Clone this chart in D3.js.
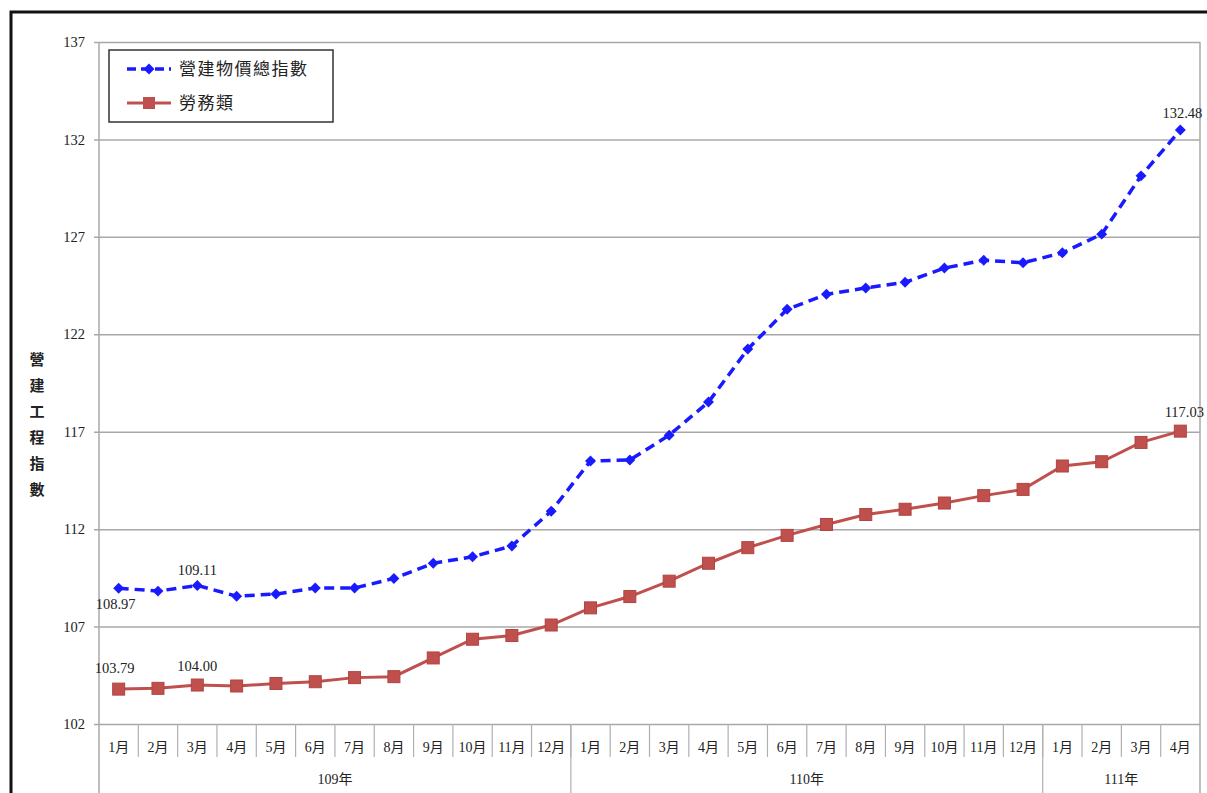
<!DOCTYPE html>
<html>
<head>
<meta charset="utf-8">
<script src="https://cdn.jsdelivr.net/npm/d3@7"></script>
<style>
  body { margin: 0; background: #fff; }
  svg text { fill: #222; }
</style>
</head>
<body>
<div id="chart"></div>
<script>
// month labels along the bottom, grouped by ROC year
const months = ["1月","2月","3月","4月","5月","6月","7月","8月","9月","10月","11月","12月",
                "1月","2月","3月","4月","5月","6月","7月","8月","9月","10月","11月","12月",
                "1月","2月","3月","4月"];
const yearLabels = ["109年", "110年", "111年"];
const yearMonths = [12, 12, 4];
const yTicks = [102, 107, 112, 117, 122, 127, 132, 137];

// 營建物價總指數
const totalIndex = [108.97,108.82,109.11,108.56,108.67,108.98,108.98,109.47,110.25,110.58,111.14,112.92,
                    115.50,115.55,116.82,118.52,121.24,123.28,124.05,124.38,124.67,125.40,125.80,125.67,
                    126.18,127.14,130.13,132.48];
// 勞務類
const labourIndex = [103.79,103.83,104.00,103.95,104.08,104.17,104.38,104.43,105.39,106.35,106.54,107.08,
                     107.96,108.54,109.33,110.25,111.05,111.68,112.24,112.75,113.02,113.34,113.72,114.04,
                     115.24,115.46,116.45,117.03];

const W = 1207, H = 793;
const pLeft = 99, pRight = 1200, pTop = 42, pBottom = 724;

const svg = d3.select('#chart').append('svg')
    .attr('width', W)
    .attr('height', H)

// outer frame of the scanned page
svg.append('rect')
    .attr('x', 11).attr('y', 12)
    .attr('width', W + 20).attr('height', H + 20)
    .attr('fill', 'none').attr('stroke', '#111').attr('stroke-width', 3)

const idx = d3.range(months.length);
const x = d3.scaleBand().domain(idx).range([pLeft, pRight]);
const y = d3.scaleLinear().domain([102, 137]).range([pBottom, pTop]);
const cx = i => x(i) + x.bandwidth() / 2;

// gridlines + y labels
const yAxis = svg.append('g')
    .attr('transform', `translate(${pLeft},0)`)
    .call(d3.axisLeft(y).tickValues(yTicks).tickSize(-(pRight - pLeft)).tickSizeOuter(0).tickPadding(14))
yAxis.select('.domain').remove()
yAxis.selectAll('.tick line').attr('stroke', '#a8a8a8').attr('stroke-width', 1.5).attr('x1', -5)
yAxis.selectAll('.tick text')
    .attr('font-family', '"Liberation Serif", serif').attr('font-size', 14.5).attr('fill', '#222')

// plot frame: left axis runs down through the category rows
svg.append('line').attr('x1', pLeft).attr('x2', pLeft).attr('y1', pTop).attr('y2', H)
    .attr('stroke', '#a8a8a8').attr('stroke-width', 1.5)
svg.append('line').attr('x1', pRight).attr('x2', pRight).attr('y1', pTop).attr('y2', H)
    .attr('stroke', '#a8a8a8').attr('stroke-width', 1.5)

// month separators
svg.append('g').selectAll('line').data(d3.range(1, months.length)).join('line')
    .attr('x1', d => x(d)).attr('x2', d => x(d))
    .attr('y1', pBottom).attr('y2', 757)
    .attr('stroke', '#b0b0b0').attr('stroke-width', 1.2)

svg.append('g').selectAll('text').data(months).join('text')
    .attr('x', (d, i) => cx(i)).attr('y', 752)
    .attr('text-anchor', 'middle')
    .attr('font-family', '"Liberation Serif", "Noto Sans CJK TC", serif').attr('font-size', 14)
    .text(d => d)

// year groups
const yearStart = yearMonths.map((n, i) => d3.sum(yearMonths.slice(0, i)));
svg.append('g').selectAll('line').data(yearStart.slice(1)).join('line')
    .attr('x1', d => x(d)).attr('x2', d => x(d))
    .attr('y1', pBottom).attr('y2', H)
    .attr('stroke', '#b0b0b0').attr('stroke-width', 1.2)
svg.append('g').selectAll('text').data(yearLabels).join('text')
    .attr('x', (d, i) => (x(yearStart[i]) + x(yearStart[i] + yearMonths[i] - 1) + x.bandwidth()) / 2)
    .attr('y', 784)
    .attr('text-anchor', 'middle')
    .attr('font-family', '"Liberation Serif", "Noto Sans CJK TC", serif').attr('font-size', 14)
    .text(d => d)

// y title, stacked vertically
svg.append('g').selectAll('text').data('營建工程指數'.split('')).join('text')
    .attr('x', 37).attr('y', (d, i) => 365 + i * 26)
    .attr('text-anchor', 'middle')
    .attr('font-family', '"Noto Sans CJK TC", sans-serif').attr('font-weight', 'bold').attr('font-size', 15)
    .text(d => d)

const line = d3.line().x((d, i) => cx(i)).y(d => y(d));

// 勞務類 – red solid with squares
svg.append('path').datum(labourIndex)
    .attr('d', line).attr('fill', 'none')
    .attr('stroke', '#c0504d').attr('stroke-width', 3)
svg.append('g').selectAll('rect').data(labourIndex).join('rect')
    .attr('x', (d, i) => cx(i) - 6).attr('y', d => y(d) - 6)
    .attr('width', 12).attr('height', 12)
    .attr('fill', '#c0504d').attr('stroke', '#b04440').attr('stroke-width', 1)

// 營建物價總指數 – blue dashed with diamonds
const diamond = d3.symbol(d3.symbolSquare, 60);
svg.append('path').datum(totalIndex)
    .attr('d', line).attr('fill', 'none')
    .attr('stroke', '#1a1aff').attr('stroke-width', 3.5).attr('stroke-dasharray', '10,6')
svg.append('g').selectAll('path').data(totalIndex).join('path')
    .attr('d', diamond)
    .attr('transform', (d, i) => `translate(${cx(i)},${y(d)}) rotate(45)`)
    .attr('fill', '#1a1aff')

// value labels
const numFont = '"Liberation Serif", serif';
const labels = [
  { s: totalIndex, i: 0, dx: -3, dy: 21 },
  { s: totalIndex, i: 2, dx: 0, dy: -10 },
  { s: totalIndex, i: 27, dx: 2, dy: -12 },
  { s: labourIndex, i: 0, dx: -4, dy: -16 },
  { s: labourIndex, i: 2, dx: 0, dy: -14 },
  { s: labourIndex, i: 27, dx: 4, dy: -14 }
];
svg.append('g').selectAll('text').data(labels).join('text')
    .attr('x', d => cx(d.i) + d.dx).attr('y', d => y(d.s[d.i]) + d.dy)
    .attr('text-anchor', 'middle')
    .attr('font-family', numFont).attr('font-size', 14.5)
    .text(d => d.s[d.i].toFixed(2))

// legend
const lg = svg.append('g').attr('transform', 'translate(109,50)')
lg.append('rect').attr('width', 224).attr('height', 72)
    .attr('fill', '#fff').attr('stroke', '#333').attr('stroke-width', 1.5)
lg.append('line').attr('x1', 18).attr('x2', 62).attr('y1', 19).attr('y2', 19)
    .attr('stroke', '#1a1aff').attr('stroke-width', 3.5).attr('stroke-dasharray', '9,5')
lg.append('path').attr('d', diamond).attr('transform', 'translate(40,19) rotate(45)')
    .attr('fill', '#1a1aff')
lg.append('line').attr('x1', 18).attr('x2', 62).attr('y1', 53).attr('y2', 53)
    .attr('stroke', '#c0504d').attr('stroke-width', 3)
lg.append('rect').attr('x', 34).attr('y', 47).attr('width', 12).attr('height', 12)
    .attr('fill', '#c0504d')
lg.selectAll('text.lab').data(['營建物價總指數', '勞務類']).join('text')
    .attr('x', 70).attr('y', (d, i) => 25 + i * 34)
    .attr('font-family', '"Noto Sans CJK TC", sans-serif').attr('font-size', 17)
    .attr('letter-spacing', 1.5)
    .text(d => d)
</script>
</body>
</html>
